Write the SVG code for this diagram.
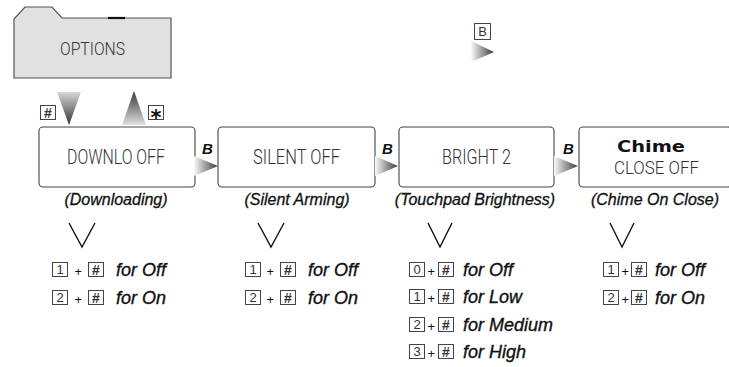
<svg xmlns="http://www.w3.org/2000/svg" xmlns:xlink="http://www.w3.org/1999/xlink" width="729" height="367" viewBox="0 0 729 367">
<style>
.lcd{font-family:Roboto,"DejaVu Sans",sans-serif;font-weight:300;fill:#333}
.lbl{font-family:"Liberation Sans",Arial,sans-serif;font-style:italic;font-size:16px;fill:#111;stroke:#111;stroke-width:0.3;text-anchor:middle}
.opt{font-family:"Liberation Sans",Arial,sans-serif;font-style:italic;font-size:18px;fill:#111;stroke:#111;stroke-width:0.35}
.plus{font-family:"Liberation Sans",Arial,sans-serif;font-style:italic;font-size:13px;fill:#111;text-anchor:middle}
.key{fill:#fff;stroke:#444;stroke-width:1}
.kt{font-family:"Liberation Sans",Arial,sans-serif;font-size:13px;fill:#333;text-anchor:middle}
.kh{font-family:"Liberation Sans",Arial,sans-serif;font-size:14px;font-weight:bold;fill:#333;text-anchor:middle}
.box{fill:#fff;stroke:#444;stroke-width:1.1}
.v{fill:none;stroke:#111;stroke-width:1.4}
.b{font-family:"Liberation Sans",Arial,sans-serif;font-weight:bold;font-style:italic;font-size:15px;fill:#111}
</style>
<defs>
<linearGradient id="gR" x1="0" y1="0" x2="1" y2="0"><stop offset="0" stop-color="#fafafa"/><stop offset="1" stop-color="#3a3a3a"/></linearGradient>
<linearGradient id="gD" x1="0" y1="0" x2="0" y2="1"><stop offset="0" stop-color="#d8d8d8"/><stop offset="1" stop-color="#333"/></linearGradient>
<linearGradient id="gU" x1="0" y1="0" x2="0" y2="1"><stop offset="0" stop-color="#333"/><stop offset="1" stop-color="#e0e0e0"/></linearGradient>
<g id="kh"><rect class="key" x="0.5" y="0.5" width="15" height="14"/><text class="kh" x="8" y="12.5">#</text></g>
</defs>

<g id="options">
<path d="M14,78 L14,19 L25,7 L52,7 L62,18 L171,18 L171,78 Z" fill="#e1e1e1" stroke="#555" stroke-width="1.2"/>
<line x1="108" y1="18" x2="125" y2="18" stroke="#111" stroke-width="2.2"/>
<text class="lcd" x="60" y="55" font-size="18" textLength="65" lengthAdjust="spacingAndGlyphs">OPTIONS</text>
</g>

<g id="downlo">
<rect class="box" x="39" y="127" width="156" height="60" rx="4"/>
<text class="lcd" x="67" y="164" font-size="20" textLength="98" lengthAdjust="spacingAndGlyphs">DOWNLO OFF</text>
<text class="lbl" x="116" y="205">(Downloading)</text>
</g>

<g id="silent">
<rect class="box" x="218" y="127" width="157" height="60" rx="4"/>
<text class="lcd" x="253" y="164" font-size="20" textLength="87" lengthAdjust="spacingAndGlyphs">SILENT OFF</text>
<text class="lbl" x="297" y="205">(Silent Arming)</text>
</g>

<g id="bright">
<rect class="box" x="399" y="127" width="155" height="60" rx="4"/>
<text class="lcd" x="442" y="164" font-size="20" textLength="69" lengthAdjust="spacingAndGlyphs">BRIGHT 2</text>
<text class="lbl" x="475" y="205">(Touchpad Brightness)</text>
</g>

<g id="chime">
<rect class="box" x="579" y="127" width="153" height="60" rx="4"/>
<text x="617" y="152" font-family="'DejaVu Sans',sans-serif" font-weight="bold" font-size="16" fill="#111" textLength="68" lengthAdjust="spacingAndGlyphs">Chime</text>
<text class="lcd" x="614" y="174" font-size="18" textLength="85" lengthAdjust="spacingAndGlyphs">CLOSE OFF</text>
<text class="lbl" x="655" y="205">(Chime On Close)</text>
</g>

<g id="connectors">
<polygon points="57,92 81,92 69,125" fill="url(#gD)"/>
<polygon points="134,91 122,125 146,125" fill="url(#gU)"/>
<use xlink:href="#kh" x="40" y="105"/>
<rect class="key" x="148.5" y="105.5" width="15" height="14"/><text x="156" y="125" font-family="'DejaVu Sans',sans-serif" font-weight="bold" font-size="21" fill="#111" text-anchor="middle">*</text>
<polygon points="194,156 194,176 218,166" fill="url(#gR)"/>
<text class="b" x="202" y="154">B</text>
<polygon points="375,156 375,176 398,166" fill="url(#gR)"/>
<text class="b" x="382" y="154">B</text>
<polygon points="554,156 554,176 578,166" fill="url(#gR)"/>
<text class="b" x="563" y="154">B</text>
<rect class="key" x="474.5" y="23.5" width="16" height="16"/><text class="kt" x="482.5" y="36">B</text>
<polygon points="471,41 471,62 494,52" fill="url(#gR)"/>
<polyline class="v" points="69,223 82,247 95,223"/>
<polyline class="v" points="258,223 271,247 284,223"/>
<polyline class="v" points="428,223 440,247 452,223"/>
<polyline class="v" points="610,223 622,247 634,223"/>
</g>

<g id="opts-downlo">
<rect class="key" x="52.5" y="262.5" width="15" height="14"/><text class="kt" x="60" y="274">1</text>
<text class="plus" x="78" y="276">+</text><use xlink:href="#kh" x="88" y="262"/>
<text class="opt" x="116" y="276">for Off</text>
<rect class="key" x="52.5" y="290.5" width="15" height="14"/><text class="kt" x="60" y="302">2</text>
<text class="plus" x="78" y="304">+</text><use xlink:href="#kh" x="88" y="290"/>
<text class="opt" x="116" y="304">for On</text>
</g>

<g id="opts-silent">
<rect class="key" x="245.5" y="262.5" width="15" height="14"/><text class="kt" x="253" y="274">1</text>
<text class="plus" x="270" y="276">+</text><use xlink:href="#kh" x="280" y="262"/>
<text class="opt" x="308" y="276">for Off</text>
<rect class="key" x="245.5" y="290.5" width="15" height="14"/><text class="kt" x="253" y="302">2</text>
<text class="plus" x="270" y="304">+</text><use xlink:href="#kh" x="280" y="290"/>
<text class="opt" x="308" y="304">for On</text>
</g>

<g id="opts-bright">
<rect class="key" x="409.5" y="262.5" width="15" height="14"/><text class="kt" x="417" y="274">0</text>
<text class="plus" x="431" y="276">+</text><use xlink:href="#kh" x="438" y="262"/>
<text class="opt" x="463" y="276">for Off</text>
<rect class="key" x="409.5" y="289.5" width="15" height="14"/><text class="kt" x="417" y="301">1</text>
<text class="plus" x="431" y="303">+</text><use xlink:href="#kh" x="438" y="289"/>
<text class="opt" x="463" y="303">for Low</text>
<rect class="key" x="409.5" y="317.5" width="15" height="14"/><text class="kt" x="417" y="329">2</text>
<text class="plus" x="431" y="331">+</text><use xlink:href="#kh" x="438" y="317"/>
<text class="opt" x="463" y="331">for Medium</text>
<rect class="key" x="409.5" y="344.5" width="15" height="14"/><text class="kt" x="417" y="356">3</text>
<text class="plus" x="431" y="358">+</text><use xlink:href="#kh" x="438" y="344"/>
<text class="opt" x="463" y="358">for High</text>
</g>

<g id="opts-chime">
<rect class="key" x="603.5" y="262.5" width="15" height="14"/><text class="kt" x="611" y="274">1</text>
<text class="plus" x="625" y="276">+</text><use xlink:href="#kh" x="631" y="262"/>
<text class="opt" x="655" y="276">for Off</text>
<rect class="key" x="603.5" y="290.5" width="15" height="14"/><text class="kt" x="611" y="302">2</text>
<text class="plus" x="625" y="304">+</text><use xlink:href="#kh" x="631" y="290"/>
<text class="opt" x="655" y="304">for On</text>
</g>
</svg>
